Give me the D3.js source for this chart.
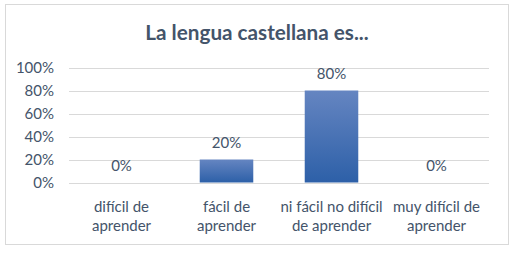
<!DOCTYPE html>
<html>
<head>
<meta charset="utf-8">
<script src="https://cdn.jsdelivr.net/npm/d3@7"></script>
<style>
  body { margin: 0; background: #fff; }
  text { font-family: Lato, "Open Sans", sans-serif; fill: #44546a; }
</style>
</head>
<body>
<svg id="chart"></svg>
<script>
const WIDTH = 517;
const HEIGHT = 254;

const categories = [
	["difícil de", "aprender"],
	["fácil de", "aprender"],
	["ni fácil no difícil", "de aprender"],
	["muy difícil de", "aprender"],
];
const values = [0, 0.2, 0.8, 0];
const yTicks = [0, 0.2, 0.4, 0.6, 0.8, 1];

const svg = d3.select("#chart").attr("width", WIDTH).attr("height", HEIGHT);

// gradient for the bars
const grad = svg.append("defs").append("linearGradient")
	.attr("id", "barGrad")
	.attr("x1", 0).attr("y1", 0).attr("x2", 0).attr("y2", 1);
grad.append("stop").attr("offset", "0%").attr("stop-color", "#6585c1");
grad.append("stop").attr("offset", "100%").attr("stop-color", "#2d60a8");

// chart frame
svg.append("rect")
	.attr("x", 5.5).attr("y", 4.5)
	.attr("width", 503).attr("height", 240)
	.attr("fill", "#fff")
	.attr("stroke", "#d9d9d9");

svg.append("text")
	.attr("x", 257)
	.attr("y", 40)
	.attr("text-anchor", "middle")
	.attr("font-size", 20.7)
	.attr("font-weight", "bold")
	.text("La lengua castellana es...");

const x = d3.scaleBand(d3.range(categories.length), [69, 489]).paddingInner(0.49).paddingOuter(0.245);
const y = d3.scaleLinear([0, 1], [182.5, 67.5]);

// gridlines
svg.append("g")
	.selectAll("line")
	.data(yTicks)
	.join("line")
	.attr("x1", 69).attr("x2", 489)
	.attr("y1", d => Math.round(y(d)) + 0.5)
	.attr("y2", d => Math.round(y(d)) + 0.5)
	.attr("stroke", "#d9d9d9");

// y axis labels
const yAxis = svg.append("g")
	.attr("transform", "translate(69,0)")
	.call(d3.axisLeft(y).tickValues(yTicks).tickFormat(d3.format(".0%")).tickSize(0).tickPadding(15));
yAxis.select(".domain").remove();
yAxis.selectAll("text")
	.attr("font-size", 15)
	.attr("font-family", null)
	.attr("fill", null);

// bars
svg.append("g")
	.selectAll("rect")
	.data(values)
	.join("rect")
	.attr("x", (d, i) => x(i))
	.attr("width", x.bandwidth())
	.attr("y", d => y(d))
	.attr("height", d => y(0) - y(d))
	.attr("fill", "url(#barGrad)");

// data labels
svg.append("g")
	.selectAll("text")
	.data(values)
	.join("text")
	.attr("x", (d, i) => x(i) + x.bandwidth() / 2)
	.attr("y", d => y(d) - 12)
	.attr("text-anchor", "middle")
	.attr("font-size", 15)
	.text(d3.format(".0%"));

// category labels
const cat = svg.append("g")
	.selectAll("text")
	.data(categories)
	.join("text")
	.attr("x", (d, i) => x(i) + x.bandwidth() / 2)
	.attr("y", 212)
	.attr("text-anchor", "middle")
	.attr("font-size", 15);
cat.selectAll("tspan")
	.data(d => d)
	.join("tspan")
	.attr("x", function () { return this.parentNode.getAttribute("x"); })
	.attr("dy", (d, i) => (i === 0 ? 0 : 18.5))
	.text(d => d);
</script>
</body>
</html>
